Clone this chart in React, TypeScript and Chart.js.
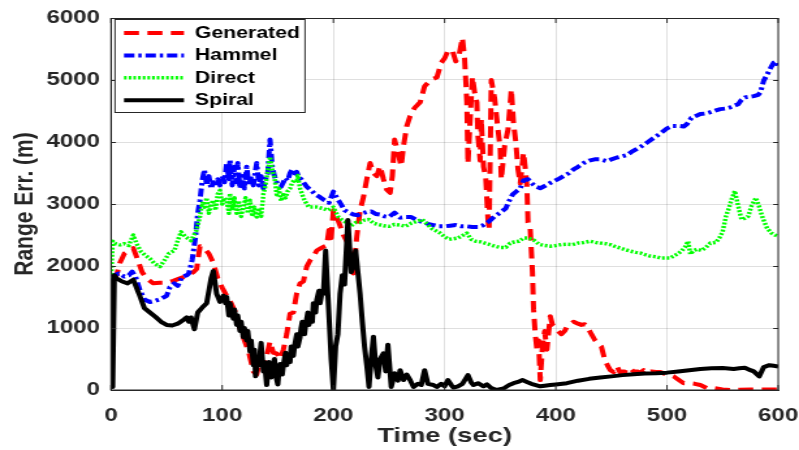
import React, { useEffect, useRef } from 'react';
import { Chart, registerables } from 'chart.js';

Chart.register(...registerables);

// ---------- data ----------
const xTicks = [0, 100, 200, 300, 400, 500, 600];
const yTicks = [0, 1000, 2000, 3000, 4000, 5000, 6000];
const seriesNames = ['Generated', 'Hammel', 'Direct', 'Spiral'];
const xTitle = 'Time (sec)';
const yTitle = 'Range Err. (m)';

// [time (sec), range error (m)]
const generated: number[][] = [
  [0,1800],[3,1850],[5,1850],[8,2050],[12,2200],[16,2250],[20,2290],[24,2100],[28,1900],[32,1800],[38,1720],[44,1730],[50,1730],[56,1760],[62,1800],[68,1840],[74,1900],[77,1950],[80,2320],[84,2280],[88,2200],[92,2050],[96,1800],[100,1650],[104,1520],[108,1400],[112,1250],[116,1000],[120,800],[124,600],[128,300],[131,250],[134,480],[137,400],[140,550],[143,780],[146,600],[149,590],[152,500],[155,650],[158,900],[161,1230],[164,1250],[167,1560],[170,1720],[173,1750],[176,1990],[179,2090],[182,2150],[185,2250],[188,2280],[191,2310],[194,2330],[196,2580],[198,2450],[200,2900],[203,2790],[206,2650],[209,2500],[212,2400],[215,2300],[218,1880],[221,2470],[224,2900],[227,3110],[230,3400],[233,3660],[236,3500],[239,3450],[242,3610],[245,3400],[248,3230],[251,3180],[253,3450],[255,4040],[258,3830],[261,3610],[263,3930],[266,4260],[269,4420],[273,4550],[278,4640],[282,4900],[288,5010],[293,5040],[297,5280],[300,5350],[303,5470],[307,5480],[310,5300],[313,5400],[316,5680],[318,5340],[320,4640],[321,3650],[323,4370],[325,5050],[327,4800],[329,4640],[330,4100],[332,3700],[333,4370],[335,3600],[337,3420],[339,2750],[340,2580],[342,5000],[345,4700],[348,4200],[350,3900],[351,3400],[354,3940],[357,4200],[360,4850],[362,4300],[364,4000],[366,3560],[368,3330],[371,3830],[373,3500],[374,3290],[375,2700],[377,2600],[379,1900],[380,1300],[381.5,900],[383,650],[384.5,800],[386,160],[388,700],[390,950],[392,650],[395,1190],[397,1050],[399,1020],[402,950],[405,900],[408,950],[410,1020],[413,1060],[416,1100],[420,1070],[423,1050],[426,1060],[429,1000],[432,900],[435,810],[438,750],[441,700],[444,490],[447,380],[449,320],[452,290],[455,380],[458,280],[461,300],[464,280],[467,350],[470,300],[473,300],[476,280],[479,320],[482,280],[486,300],[490,290],[494,290],[498,260],[503,240],[506,220],[510,170],[515,110],[520,110],[525,100],[530,80],[536,30],[542,30],[550,10],[557,0],[565,5],[575,10],[585,10],[596,10],[600,10]
];

const hammel: number[][] = [
  [0,1800],[3,1850],[7,1880],[12,1830],[16,1850],[19,1910],[22,1830],[26,1610],[30,1460],[35,1420],[40,1440],[45,1470],[50,1520],[53,1660],[57,1720],[60,1680],[64,1830],[68,1850],[70,1880],[73,2100],[76,2470],[78,2850],[80,3060],[82,3380],[84,3550],[86,3300],[88,3450],[90,3250],[92,3350],[94,3280],[96,3400],[98,3300],[100,3450],[102,3350],[104,3650],[106,3400],[107,3710],[109,3300],[111,3600],[113,3350],[114,3660],[116,3250],[118,3450],[120,3250],[122,3600],[124,3300],[126,3450],[128,3300],[130,3550],[131,3660],[133,3300],[135,3450],[137,3250],[139,3400],[141,3500],[143,4040],[145,3600],[147,3450],[149,3350],[151,3300],[153,3280],[155,3350],[157,3420],[159,3380],[161,3500],[163,3560],[165,3450],[167,3520],[169,3420],[171,3400],[173,3350],[176,3280],[180,3220],[184,3150],[188,3110],[192,3060],[196,3020],[200,3200],[203,3100],[206,3020],[210,2900],[214,2860],[218,2830],[222,2820],[226,2850],[230,2870],[234,2880],[238,2840],[242,2830],[246,2800],[250,2790],[255,2860],[260,2780],[265,2790],[270,2790],[275,2740],[280,2710],[285,2680],[290,2660],[295,2640],[300,2640],[305,2650],[310,2660],[315,2640],[320,2640],[325,2630],[330,2630],[335,2660],[340,2720],[345,2800],[350,2860],[355,2930],[358,3050],[361,3150],[365,3210],[368,3250],[371,3380],[375,3400],[378,3340],[382,3280],[386,3255],[390,3290],[394,3330],[398,3365],[403,3410],[407,3450],[412,3500],[416,3560],[420,3600],[425,3660],[430,3700],[435,3720],[440,3720],[446,3690],[450,3720],[455,3750],[460,3770],[464,3790],[468,3840],[473,3890],[478,3940],[482,3990],[486,4040],[491,4100],[495,4150],[500,4220],[505,4260],[510,4260],[515,4250],[518,4290],[522,4390],[526,4420],[530,4450],[535,4460],[539,4480],[544,4510],[548,4530],[553,4540],[557,4560],[561,4590],[564,4610],[567,4680],[570,4720],[574,4730],[578,4740],[582,4760],[584,4800],[587,4990],[591,5120],[594,5220],[596,5280],[598,5300],[600,5220]
];

const direct: number[][] = [
  [0,1800],[1.5,2400],[4,2360],[8,2340],[12,2360],[16,2330],[20,2500],[23,2360],[27,2230],[31,2170],[35,2120],[39,2040],[44,1990],[48,2090],[52,2200],[57,2250],[60,2410],[63,2550],[67,2470],[72,2410],[77,2580],[80,2800],[82,3010],[84,2950],[86,3100],[88,2850],[90,3000],[92,3060],[94,2900],[96,3160],[98,3220],[100,3000],[102,3100],[104,3050],[106,2850],[107,3170],[109,2900],[111,3100],[113,2850],[115,3050],[117,2800],[119,2950],[121,3100],[123,2850],[125,3060],[127,2800],[129,2950],[131,2790],[133,2900],[135,2800],[137,3160],[139,3300],[141,3540],[143,3760],[145,3550],[147,3430],[149,3150],[151,3250],[153,3050],[155,3150],[157,3100],[159,3210],[161,3250],[163,3350],[165,3390],[167,3350],[168,3460],[170,3250],[172,3150],[174,3060],[176,3000],[178,2950],[180,2950],[185,2950],[190,2930],[195,2900],[200,2950],[204,2800],[208,2740],[212,2700],[216,2650],[220,2700],[224,2700],[228,2740],[232,2750],[236,2690],[240,2670],[245,2650],[250,2640],[255,2670],[260,2660],[265,2640],[270,2690],[275,2720],[280,2750],[284,2680],[288,2610],[292,2570],[296,2530],[300,2470],[304,2430],[308,2440],[312,2450],[316,2490],[320,2530],[324,2430],[328,2400],[332,2390],[336,2370],[340,2350],[345,2320],[350,2300],[355,2300],[359,2370],[363,2390],[367,2400],[371,2450],[375,2450],[380,2420],[385,2350],[390,2330],[395,2320],[400,2330],[405,2345],[410,2350],[415,2345],[420,2370],[425,2380],[431,2400],[436,2380],[440,2370],[445,2360],[449,2345],[454,2310],[458,2290],[463,2260],[467,2240],[472,2220],[476,2210],[481,2180],[485,2160],[490,2150],[494,2130],[498,2130],[503,2130],[507,2170],[510,2200],[513,2240],[516,2300],[519,2400],[521,2190],[524,2250],[527,2270],[531,2250],[535,2300],[539,2370],[544,2380],[547,2450],[550,2550],[553,2800],[556,2950],[558,3070],[561,3210],[564,2970],[567,2750],[570,2770],[573,2800],[576,2970],[580,3100],[583,2950],[586,2780],[590,2610],[594,2530],[597,2500],[600,2480]
];

const spiral: number[][] = [
  [0,1800],[1.5,50],[3,1850],[5,1800],[10,1750],[15,1720],[20,1780],[25,1560],[30,1320],[35,1250],[40,1180],[45,1100],[50,1050],[55,1040],[60,1070],[65,1130],[68,1170],[70,1100],[72,1170],[75,980],[78,1250],[82,1330],[86,1400],[90,1800],[92,1920],[95,1550],[98,1420],[100,1480],[101,1520],[103,1400],[104,1500],[106,1200],[107,1400],[108,1300],[110,1150],[111,1300],[113,1050],[114,1200],[116,950],[117,1100],[119,850],[120,1000],[122,800],[123,950],[125,620],[126,800],[128,400],[129,650],[130,220],[132,500],[133,400],[135,760],[137,300],[138,450],[140,80],[141,300],[142,450],[144,200],[145,350],[147,500],[148,250],[150,90],[151,300],[152,420],[154,250],[155,400],[157,600],[158,400],[160,550],[161,450],[162,700],[164,550],[165,700],[167,900],[168,700],[170,850],[171,1000],[172,1100],[174,900],[175,1050],[177,1250],[178,1050],[180,1200],[181,1100],[182,1400],[184,1250],[185,1450],[187,1600],[188,1400],[190,1600],[191,1550],[193,2250],[196,1200],[198,500],[200,0],[202,700],[204,900],[206,1550],[208,1850],[210,1700],[213,2740],[216,1900],[218,2000],[220,2250],[222,1900],[224,1550],[226,1100],[228,700],[230,400],[232,50],[234,500],[236,860],[238,400],[240,200],[242,500],[245,590],[247,300],[249,730],[252,50],[255,270],[258,150],[260,320],[263,160],[266,250],[269,160],[272,50],[276,100],[279,80],[282,320],[285,100],[290,80],[293,50],[297,100],[300,60],[303,160],[306,80],[308,40],[312,60],[316,100],[321,240],[324,120],[326,80],[330,110],[335,60],[338,90],[342,30],[347,0],[353,25],[358,80],[362,110],[366,130],[370,160],[374,130],[378,100],[382,80],[386,60],[390,70],[395,80],[400,90],[410,110],[420,150],[430,180],[440,200],[450,220],[460,240],[470,255],[480,265],[490,270],[500,280],[510,300],[520,320],[530,340],[540,350],[550,355],[560,340],[565,350],[570,360],[575,320],[578,300],[583,220],[587,370],[592,400],[596,390],[600,380]
];

// ---------- layout / style ----------
const PAGE_W = 799;
const PAGE_H = 450;
const CANVAS_W = 614; // drawn narrower, stretched horizontally like the source image
const SX = PAGE_W / CANVAS_W;
const FONT = "'Liberation Sans', Arial, Helvetica, sans-serif";
const AXIS_COLOR = '#262626';
const GRID_COLOR = 'rgba(38,38,38,0.15)';

const styles = [
  { color: '#ff0000', width: 4, dash: [11.5, 6.5] },
  { color: '#0000ff', width: 4, dash: [8, 3, 2.5, 3] },
  { color: '#00ff00', width: 3.5, dash: [2, 1.6] },
  { color: '#000000', width: 4, dash: [] as number[] },
];
const seriesData = [generated, hammel, direct, spiral];

const framePlugin = {
  id: 'matlabFrame',
  afterDraw(chart: any) {
    const { ctx, chartArea: a, scales } = chart;
    ctx.save();
    ctx.strokeStyle = AXIS_COLOR;
    ctx.lineWidth = 1;
    ctx.setLineDash([]);
    ctx.strokeRect(a.left, a.top + 0.5, a.right - a.left, a.bottom - a.top - 0.5);
    ctx.beginPath();
    for (const t of xTicks) {
      const px = scales.x.getPixelForValue(t);
      ctx.moveTo(px, a.top); ctx.lineTo(px, a.top + 5);
      ctx.moveTo(px, a.bottom); ctx.lineTo(px, a.bottom - 5);
    }
    for (const v of yTicks) {
      const py = Math.round(scales.y.getPixelForValue(v)) + 0.5;
      ctx.moveTo(a.left, py); ctx.lineTo(a.left + 5 / SX, py);
      ctx.moveTo(a.right, py); ctx.lineTo(a.right - 5 / SX, py);
    }
    ctx.stroke();

    // legend
    const bx = a.left + 4 / SX;
    const by = a.top + 1;
    const bw = 190 / SX;
    const bh = 93;
    ctx.fillStyle = '#ffffff';
    ctx.fillRect(bx, by, bw, bh);
    ctx.strokeStyle = AXIS_COLOR;
    ctx.lineWidth = 1;
    ctx.strokeRect(bx, by + 0.5, bw, bh);
    ctx.font = `bold 16.3px ${FONT}`;
    ctx.textBaseline = 'middle';
    ctx.textAlign = 'left';
    seriesNames.forEach((name, i) => {
      const cy = by + 14 + i * 22.4;
      const s = styles[i];
      ctx.beginPath();
      ctx.strokeStyle = s.color;
      ctx.lineWidth = s.width;
      ctx.setLineDash(s.dash);
      ctx.moveTo(bx + 9 / SX, cy);
      ctx.lineTo(bx + 69 / SX, cy);
      ctx.stroke();
      ctx.setLineDash([]);
      ctx.fillStyle = '#000000';
      ctx.fillText(name, bx + 80 / SX, cy + 0.5);
    });
    ctx.restore();
  },
};

export default function App() {
  const ref = useRef<HTMLCanvasElement | null>(null);

  useEffect(() => {
    const canvas = ref.current;
    if (!canvas) return;
    const datasets = seriesNames.map((name, i) => ({
      label: name,
      data: seriesData[i].map(([x, y]) => ({ x, y })),
      borderColor: styles[i].color,
      backgroundColor: styles[i].color,
      borderWidth: styles[i].width,
      borderDash: styles[i].dash,
      borderCapStyle: 'butt' as const,
      borderJoinStyle: 'round' as const,
      pointRadius: 0,
      tension: 0,
      fill: false,
      order: seriesNames.length - i,
    }));

    const tickFont = { family: FONT, size: 18.5, weight: 'bold' as const };
    const titleFont = { family: FONT, size: 21, weight: 'bold' as const };
    const plain = (v: any) => String(v);

    const chart = new Chart(canvas, {
      type: 'line',
      data: { datasets },
      options: {
        responsive: false,
        animation: false,
        devicePixelRatio: 1,
        events: [],
        layout: { padding: { left: 0, right: 16, top: 18, bottom: 0 } },
        plugins: { legend: { display: false }, tooltip: { enabled: false } },
        scales: {
          x: {
            type: 'linear',
            min: xTicks[0],
            max: xTicks[xTicks.length - 1],
            afterFit: (s: any) => { s.height = 60; s.paddingLeft = 0; s.paddingRight = 0; },
            afterBuildTicks: (s: any) => { s.ticks = xTicks.map((v) => ({ value: v })); },
            ticks: { font: tickFont, color: AXIS_COLOR, padding: 15, maxRotation: 0, autoSkip: false, callback: plain },
            grid: { color: GRID_COLOR, lineWidth: 1, drawTicks: false },
            border: { display: true, color: AXIS_COLOR, width: 1 },
            title: { display: true, text: xTitle, font: titleFont, color: AXIS_COLOR, padding: { top: 0, bottom: 1 } },
          },
          y: {
            type: 'linear',
            min: yTicks[0],
            max: yTicks[yTicks.length - 1],
            afterFit: (s: any) => { s.width = 111 / SX; s.paddingTop = 0; s.paddingBottom = 0; },
            afterBuildTicks: (s: any) => { s.ticks = yTicks.map((v) => ({ value: v })); },
            ticks: { font: tickFont, color: AXIS_COLOR, padding: 8.5, autoSkip: false, callback: plain },
            grid: { color: GRID_COLOR, lineWidth: 1, drawTicks: false },
            border: { display: true, color: AXIS_COLOR, width: 1 },
            title: { display: true, text: yTitle, font: titleFont, color: AXIS_COLOR, padding: { top: 6.5, bottom: 0 } },
          },
        },
      },
      plugins: [framePlugin],
    } as any);

    return () => chart.destroy();
  }, []);

  return (
    <div style={{ position: 'fixed', left: 0, top: 0, width: PAGE_W, height: PAGE_H, background: '#ffffff' }}>
      <canvas
        ref={ref}
        width={CANVAS_W}
        height={PAGE_H}
        style={{ width: `${PAGE_W}px`, height: `${PAGE_H}px`, display: 'block' }}
      />
    </div>
  );
}
